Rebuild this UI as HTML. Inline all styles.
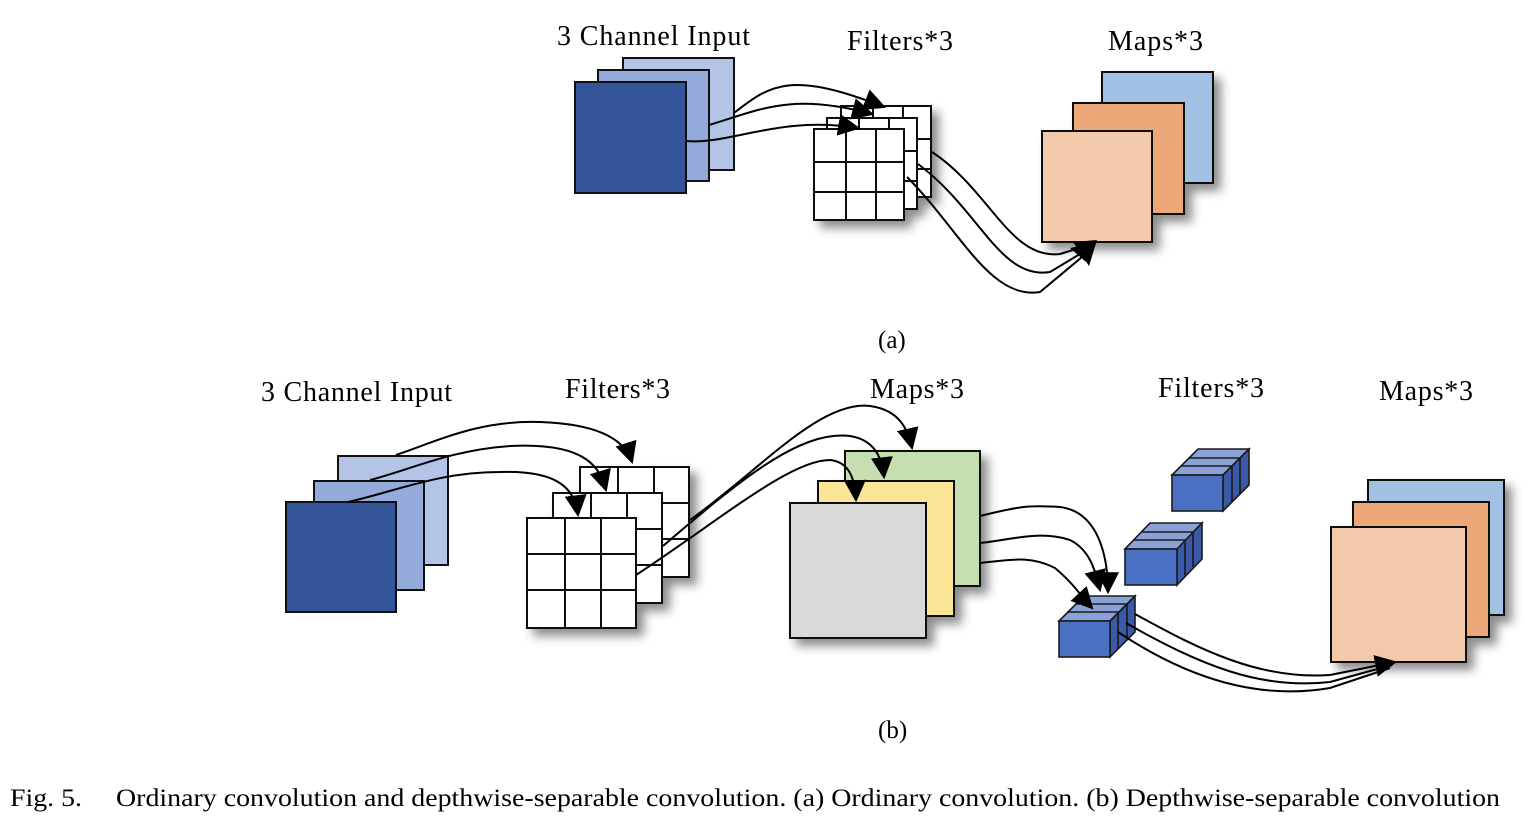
<!DOCTYPE html>
<html><head><meta charset="utf-8"><style>
html,body{margin:0;padding:0;background:#fff;}
svg{display:block}
text{font-family:"Liberation Serif",serif;fill:#000}
</style></head><body>
<svg width="1533" height="822" viewBox="0 0 1533 822" xmlns="http://www.w3.org/2000/svg">
<defs>
<filter id="sh" x="-20%" y="-20%" width="150%" height="150%"><feDropShadow dx="7" dy="7" stdDeviation="5" flood-color="#000" flood-opacity="0.45"/></filter>
<marker id="ab" viewBox="0 0 10 10" refX="9" refY="5" markerWidth="22" markerHeight="22" orient="auto" markerUnits="userSpaceOnUse"><path d="M0,0 L10,5 L0,10 z" fill="#000"/></marker>
<g id="grid"><rect x="0" y="0" width="90" height="91" fill="#fff" stroke="#111" stroke-width="2"/><path d="M32,0V91M62,0V91M0,33H90M0,63H90" stroke="#111" stroke-width="2"/></g>
<g id="gridb"><rect x="0" y="0" width="109" height="110" fill="#fff" stroke="#111" stroke-width="2"/><path d="M38,0V110M74,0V110M0,36H109M0,72H109" stroke="#111" stroke-width="2"/></g>
</defs>

<!-- labels -->
<g font-size="28" lengthAdjust="spacingAndGlyphs">
<text x="557" y="45" textLength="193">3 Channel Input</text>
<text x="847" y="50" textLength="106">Filters*3</text>
<text x="1108" y="50" textLength="95">Maps*3</text>
<text x="878" y="348" font-size="25">(a)</text>
<text x="261" y="401" textLength="191">3 Channel Input</text>
<text x="565" y="398" textLength="105">Filters*3</text>
<text x="870" y="398" textLength="94">Maps*3</text>
<text x="1158" y="397" textLength="106">Filters*3</text>
<text x="1379" y="400" textLength="94">Maps*3</text>
<text x="878" y="738" font-size="25">(b)</text>
</g>
<text x="10" y="806" font-size="25" textLength="72" lengthAdjust="spacingAndGlyphs">Fig. 5.</text>
<text x="116" y="806" font-size="25" textLength="1384" lengthAdjust="spacingAndGlyphs">Ordinary convolution and depthwise-separable convolution. (a) Ordinary convolution. (b) Depthwise-separable convolution</text>

<!-- (a) input -->
<g stroke="#111" stroke-width="2">
<rect x="623" y="58" width="111" height="112" fill="#b4c4e6"/>
<rect x="598" y="70" width="111" height="111" fill="#93aadb"/>
<rect x="575" y="82" width="111" height="111" fill="#34559a"/>
</g>
<!-- (a) filters -->
<g filter="url(#sh)">
<use href="#grid" x="841" y="106"/>
<use href="#grid" x="827" y="118"/>
<use href="#grid" x="814" y="129"/>
</g>
<!-- (a) maps -->
<g stroke="#111" stroke-width="2" filter="url(#sh)">
<rect x="1102" y="72" width="111" height="111" fill="#a0c0e4"/>
<rect x="1073" y="103" width="111" height="111" fill="#eda87a"/>
<rect x="1042" y="131" width="110" height="111" fill="#f2c9aa"/>
</g>
<!-- (a) curves -->
<g fill="none" stroke="#000" stroke-width="2">
<path d="M734,113 C770,85 790,70 884,107" marker-end="url(#ab)"/>
<path d="M709,125 C760,110 790,92 872,114" marker-end="url(#ab)"/>
<path d="M686,141 C730,145 780,115 858,128" marker-end="url(#ab)"/>
<path d="M932,152 C990,190 1010,260 1060,254 L1092,244"/>
<path d="M918,164 C980,210 1000,280 1050,272 L1090,248"/>
<path d="M907,177 C960,230 990,300 1040,292 L1088,252"/>
</g>
<polygon points="1073,242 1097,240 1089,266" fill="#000"/>
<polygon points="1070,248 1094,243 1086,262" fill="#000"/>

<!-- (b) input -->
<g stroke="#111" stroke-width="2">
<rect x="338" y="456" width="110" height="109" fill="#b4c4e6"/>
<rect x="314" y="481" width="110" height="109" fill="#93aadb"/>
<rect x="286" y="502" width="110" height="110" fill="#34559a"/>
</g>
<!-- (b) filters -->
<g filter="url(#sh)">
<use href="#gridb" x="580" y="467"/>
<use href="#gridb" x="553" y="493"/>
<use href="#gridb" x="527" y="518"/>
</g>
<!-- (b) maps -->
<g stroke="#111" stroke-width="2" filter="url(#sh)">
<rect x="845" y="451" width="135" height="135" fill="#c5dfb0"/>
<rect x="818" y="481" width="136" height="135" fill="#fbe597"/>
<rect x="790" y="503" width="136" height="135" fill="#d9d9d9"/>
</g>
<!-- (b) final maps -->
<g stroke="#111" stroke-width="2" filter="url(#sh)">
<rect x="1368" y="480" width="136" height="135" fill="#a0c0e4"/>
<rect x="1353" y="502" width="136" height="135" fill="#eda87a"/>
<rect x="1331" y="527" width="135" height="135" fill="#f2c9aa"/>
</g>

<!-- cubes -->
<g stroke="#1a1a1a" stroke-width="1.6">
<g>
<polygon points="1172,475 1223,475 1249,449 1198,449" fill="#8aa2d8"/>
<polygon points="1223,475 1249,449 1249,485 1223,511" fill="#3a5aa8"/>
<rect x="1172" y="475" width="51" height="36" fill="#4a70c4"/>
<path d="M1181,466H1232V502M1189,458H1240V494" fill="none"/>
</g>
<g>
<polygon points="1125,549 1177,549 1202,523 1150,523" fill="#8aa2d8"/>
<polygon points="1177,549 1202,523 1202,559 1177,585" fill="#3a5aa8"/>
<rect x="1125" y="549" width="52" height="36" fill="#4a70c4"/>
<path d="M1133,540H1185V576M1142,532H1193V567" fill="none"/>
</g>
<g>
<polygon points="1059,621 1110,621 1135,596 1084,596" fill="#8aa2d8"/>
<polygon points="1110,621 1135,596 1135,632 1110,657" fill="#3a5aa8"/>
<rect x="1059" y="621" width="51" height="36" fill="#4a70c4"/>
<path d="M1067,612H1118V648M1076,604H1127V640" fill="none"/>
</g>
</g>

<!-- (b) curves -->
<g fill="none" stroke="#000" stroke-width="2">
<path d="M396,455 C440,440 480,420 540,422 C600,424 625,440 632,462" marker-end="url(#ab)"/>
<path d="M370,480 C410,470 450,450 510,446 C590,442 600,470 606,490" marker-end="url(#ab)"/>
<path d="M348,502 C400,490 440,472 500,472 C560,470 575,490 578,515" marker-end="url(#ab)"/>
<path d="M690,520 C760,470 820,400 870,406 C900,410 908,430 912,448" marker-end="url(#ab)"/>
<path d="M663,546 C740,480 800,430 850,436 C875,440 882,458 884,477" marker-end="url(#ab)"/>
<path d="M636,575 C720,520 790,460 830,460 C850,462 855,480 856,500" marker-end="url(#ab)"/>
<path d="M980,516 C1020,506 1030,505 1060,507 C1100,512 1108,560 1108,592" marker-end="url(#ab)"/>
<path d="M980,543 C1010,540 1040,530 1070,540 C1090,550 1095,570 1100,590" marker-end="url(#ab)"/>
<path d="M980,563 C1010,560 1030,555 1055,568 C1075,585 1080,595 1092,608" marker-end="url(#ab)"/>
<path d="M1135,614 C1200,650 1260,680 1330,675 L1395,662" marker-end="url(#ab)"/>
<path d="M1126,623 C1200,665 1260,690 1330,682 L1392,665"/>
<path d="M1118,632 C1190,680 1260,700 1330,688 L1390,668"/>
</g>
</svg>
</body></html>
